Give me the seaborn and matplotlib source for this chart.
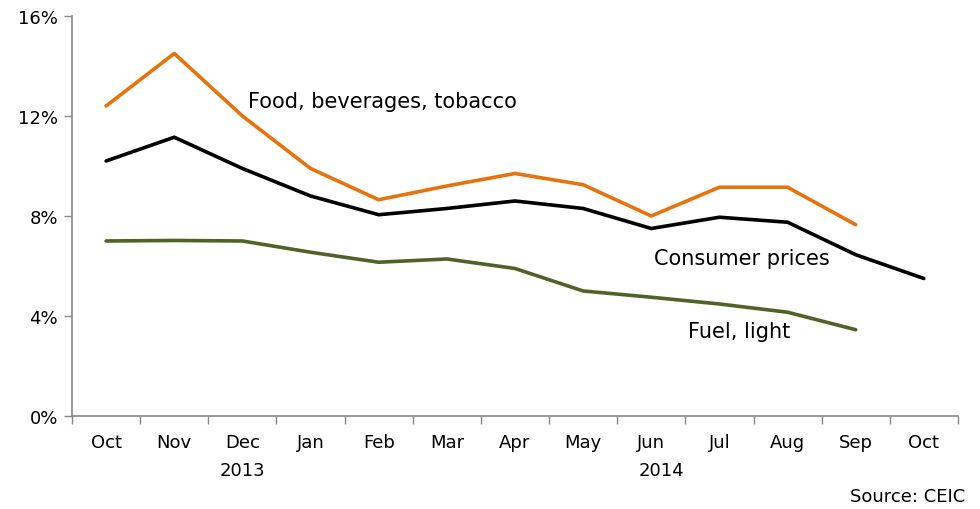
import numpy as np
import pandas as pd
import matplotlib
matplotlib.use("Agg")
import matplotlib.pyplot as plt
import seaborn as sns

months = ["Oct", "Nov", "Dec", "Jan", "Feb", "Mar", "Apr", "May",
          "Jun", "Jul", "Aug", "Sep", "Oct"]
food = [12.4, 14.5, 12.0, 9.9, 8.65, 9.2, 9.7, 9.25, 8.0, 9.15, 9.15, 7.65]
consumer = [10.2, 11.15, 9.9, 8.8, 8.05, 8.3, 8.6, 8.3, 7.5, 7.95, 7.75, 6.45, 5.5]
fuel = [7.0, 7.02, 7.0, 6.55, 6.15, 6.28, 5.9, 5.0, 4.75, 4.48, 4.15, 3.45]

series_names = ["Food, beverages, tobacco", "Consumer prices", "Fuel, light"]
series_values = [food, consumer, fuel]
colors = ["#E8720C", "#000000", "#4F6228"]

rows = []
for name, vals in zip(series_names, series_values):
    for i, v in enumerate(vals):
        rows.append({"idx": i, "value": v, "series": name})
df = pd.DataFrame(rows)

sns.set_theme(style="white")
plt.rcParams["font.family"] = ["DejaVu Sans"]

fig = plt.figure(figsize=(9.8, 5.1), dpi=100)
ax = fig.add_axes([0.0735, 0.1824, 0.904, 0.7843])

sns.lineplot(data=df, x="idx", y="value", hue="series", hue_order=series_names,
             palette=colors, linewidth=2.6, legend=False, ax=ax)

ax.set_xlim(-0.5, len(months) - 0.5)
ax.set_ylim(0, 16)
ax.set_yticks([0, 4, 8, 12, 16])
ax.set_yticklabels(["0%", "4%", "8%", "12%", "16%"], fontsize=13)
ax.set_xticks(range(len(months)))
ax.set_xticklabels(months, fontsize=13)
ax.set_xticks(np.arange(-0.5, len(months)), minor=True)
ax.tick_params(axis="x", which="both", bottom=True)
ax.tick_params(axis="y", which="both", left=True)
ax.tick_params(axis="x", which="major", length=0, pad=12, labelcolor="black")
ax.tick_params(axis="x", which="minor", length=6, color="#888888", width=1, direction="out")
ax.tick_params(axis="y", which="major", length=6, color="#888888", width=1, direction="out",
               pad=4, labelcolor="black")
ax.set_xlabel("")
ax.set_ylabel("")
for s in ["top", "right"]:
    ax.spines[s].set_visible(False)
for s in ["left", "bottom"]:
    ax.spines[s].set_color("#888888")
    ax.spines[s].set_linewidth(1.2)

ax.text(2.08, 12.6, "Food, beverages, tobacco", fontsize=15, color="black", va="center", ha="left")
ax.text(8.04, 6.3, "Consumer prices", fontsize=15, color="black", va="center", ha="left")
ax.text(8.54, 3.38, "Fuel, light", fontsize=15, color="black", va="center", ha="left")

ax.text(2, -0.135, "2013", transform=ax.get_xaxis_transform(), fontsize=13,
        ha="center", va="center", color="black")
ax.text(8.15, -0.135, "2014", transform=ax.get_xaxis_transform(), fontsize=13,
        ha="center", va="center", color="black")
fig.text(0.985, 0.025, "Source: CEIC", fontsize=13, ha="right", va="center", color="black")

fig.savefig("out.png", dpi=100)
